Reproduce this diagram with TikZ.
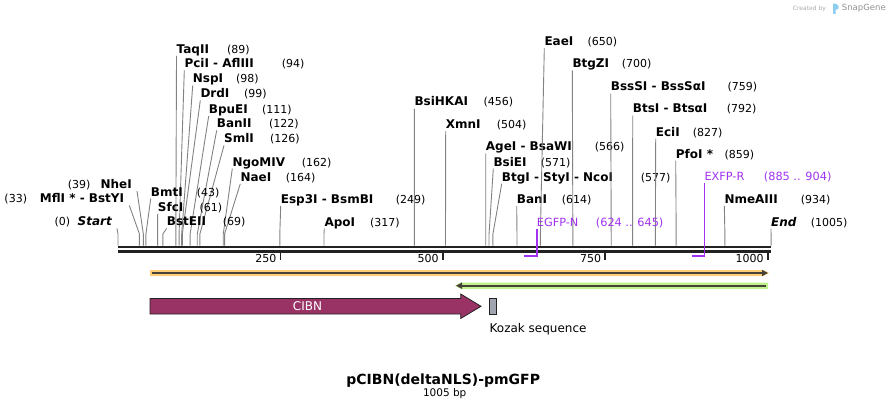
\documentclass[tikz,border=0pt]{standalone}
\usepackage{fontspec}
\setmainfont{DejaVu Sans}
\usetikzlibrary{arrows.meta}
\definecolor{cutgray}{RGB}{130,130,130}
\definecolor{backbone}{RGB}{34,34,34}
\definecolor{primer}{RGB}{160,50,240}
\definecolor{orangeband}{RGB}{255,205,120}
\definecolor{greenband}{RGB}{190,240,140}
\definecolor{featline}{RGB}{70,66,56}
\definecolor{cibnfill}{RGB}{153,51,102}
\definecolor{kozakfill}{RGB}{160,165,175}
\definecolor{logogray}{RGB}{170,170,170}
\definecolor{logoblue}{RGB}{140,205,240}
\begin{document}
\begin{tikzpicture}[x=1pt,y=-1pt,
    enz/.style={font=\fontsize{12}{14}\selectfont\bfseries,inner sep=0pt,text height=8.5pt,text depth=2.5pt},
    enzl/.style={enz,inner xsep=5pt},
    bp/.style={font=\fontsize{11}{13}\selectfont,inner sep=0pt,anchor=base west},
    cut/.style={cutgray,line width=0.9pt},
    primerline/.style={primer,line width=1.6pt},
    primertext/.style={font=\fontsize{11.3}{13}\selectfont,text=primer,inner sep=0pt,text depth=2.5pt,anchor=base west}]
\useasboundingbox (0,0) rectangle (890,409);

\node[font=\fontsize{6}{7}\selectfont,text=logogray,anchor=base west,inner sep=0pt] (createdby) at (792.7,10.5) {Created by};
\fill[logoblue] (833,14) -- (833,3.5) .. controls (840,3.5) and (840.5,9.5) .. (835.5,10) -- (835.5,14) -- cycle;
\node[font=\fontsize{8.5}{10}\selectfont,text=logogray!85!black,anchor=base west,inner sep=0pt] (snapgene) at (841.7,11) {SnapGene};

\foreach \nm/\lx/\by/\nx/\site [count=\k] in {
    TaqII/176.5/53.3/227/89,
    PciI - AflIII/184.3/67.7/281.7/94,
    NspI/192.7/83/236/98,
    DrdI/200.3/97.7/244/99,
    BpuEI/208.7/113.3/262/111,
    BanII/216.7/127.7/269/122,
    SmlI/224/142.7/270/126,
    NgoMIV/232.3/166/301.7/162,
    NaeI/240.3/181/285.7/164,
    BmtI/150.7/196/196.7/43,
    SfcI/157.7/211/199.3/61,
    BstEII/166.7/225.7/222.7/69,
    Esp3I - BsmBI/280.7/203.3/395.7/249,
    ApoI/324.3/226/370/317,
    BsiHKAI/414.3/106/483.3/456,
    XmnI/445.7/128.3/496.7/504,
    AgeI - BsaWI/485.7/150.7/594.7/566,
    BsiEI/493.3/166/540.7/571,
    BtgI - StyI - NcoI/501.7/181/640.7/577,
    BanI/516.7/203.3/561.7/614,
    EaeI/544.3/45.7/587.3/650,
    BtgZI/572.3/67.7/621.7/700,
    BssSI - BssSαI/610.7/91/727.3/759,
    BtsI - BtsαI/632.7/113/726.7/792,
    EciI/655.7/136/692.7/827,
    PfoI */675.7/158/724.3/859,
    NmeAIII/724.3/203.3/800.7/934,
    {\itshape End}/771/226/810.7/1005}{
  \node[enz,anchor=base west] (e\k) at (\lx,\by) {\nm};
  \node[bp] (n\k) at (\nx,\by) {(\site)};
  \coordinate (b\k) at ({118+0.6498*\site},234);
  \coordinate (s\k) at ({118+0.6498*\site},245.5);
  \draw[cut] (e\k.south west) -- (b\k) -- (s\k);
}
\foreach \nm/\rx/\by/\nx/\site [count=\k] in {
    {\itshape Start}/112/225.7/54.3/0,
    NheI/132/188.3/67.7/39,
    MflI * - BstYI/124.3/202.7/4.3/33}{
  \node[enzl,anchor=base east] (l\k) at ({\rx+5},\by) {\nm};
  \node[bp] (m\k) at (\nx,\by) {(\site)};
  \coordinate (lb\k) at ({118+0.6498*\site},234);
  \coordinate (ls\k) at ({118+0.6498*\site},245.5);
  \draw[cut] (l\k.south east) -- (lb\k) -- (ls\k);
}

\draw[backbone,line width=2.7pt] (118,247) -- (771,247);
\draw[backbone,line width=2.7pt] (118,251.3) -- (771,251.3);
\foreach \t in {250,500,750,1000}{
  \coordinate (t\t) at ({118+0.6498*\t},253);
  \draw[backbone,line width=1.8pt] (t\t) -- ++(0,7);
  \node[bp,anchor=base east] (tl\t) at ({118+0.6498*\t-4},262.7) {\t};
}

\node[primertext] (egfpn) at (536.7,226) {EGFP-N};
\node[primertext] (egfpnpos) at (595.7,226) {(624 .. 645)};
\coordinate (egfpnend) at (523.5,256);
\draw[primerline] (egfpn.south west) |- (egfpnend);
\node[primertext] (exfpr) at (704.3,180.7) {EXFP-R};
\node[primertext] (exfprpos) at (763.7,180.7) {(885 .. 904)};
\coordinate (exfprend) at (692.3,256);
\draw[primerline] (exfpr.south west) |- (exfprend);

\fill[orangeband] (150,270) -- (763,270) -- (769,273) -- (763,276) -- (150,276) -- cycle;
\draw[featline,line width=2pt,-{Triangle[length=6pt,width=6pt]}] (152,273) -- (768,273);
\fill[greenband] (461,282.5) -- (768,282.5) -- (768,289) -- (461,289) -- (455,285.7) -- cycle;
\draw[featline,line width=2pt,-{Triangle[length=6pt,width=6pt]}] (766,285.7) -- (456,285.7);

\filldraw[fill=cibnfill,draw=backbone,line width=0.8pt] (150,298.5) -- (460.7,298.5) -- (460.7,294) -- (481,306.3) -- (460.7,318.5) -- (460.7,314) -- (150,314) -- cycle;
\node[text=white,font=\fontsize{12}{14}\selectfont] (cibn) at (307.5,306.3) {CIBN};
\node[draw=backbone,fill=kozakfill,line width=0.8pt,minimum width=6.7pt,minimum height=16pt,inner sep=0pt,anchor=north west] (kozak) at (489.3,298.3) {};
\node[font=\fontsize{12}{14}\selectfont,anchor=base west,inner sep=0pt] (kozaklabel) at (489.5,332) {Kozak sequence};

\node[font=\fontsize{14}{16}\selectfont\bfseries,anchor=base] (title) at (443.2,384) {pCIBN(deltaNLS)-pmGFP};
\node[font=\fontsize{10.5}{12}\selectfont,anchor=base] (length) at (444.7,396.5) {1005 bp};
\end{tikzpicture}
\end{document}
